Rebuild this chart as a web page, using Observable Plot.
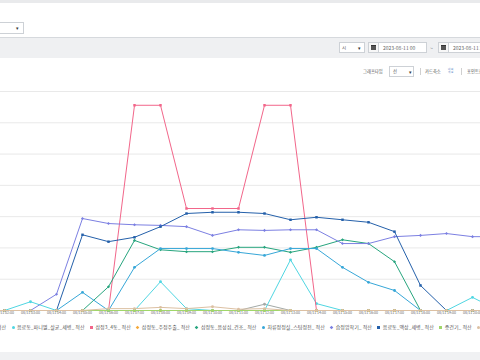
<!DOCTYPE html>
<html><head><meta charset="utf-8">
<script src="https://cdn.jsdelivr.net/npm/d3@7"></script>
<script src="https://cdn.jsdelivr.net/npm/@observablehq/plot@0.6"></script>
<style>
html,body{margin:0;padding:0;}
body{width:480px;height:360px;overflow:hidden;position:relative;background:#fff;font-family:"Noto Sans CJK KR","Noto Sans",sans-serif;color:#444;}
.abs{position:absolute;box-sizing:border-box;}
.box{position:absolute;box-sizing:border-box;background:#fff;border:1px solid #cdd1d6;}
.t{position:absolute;white-space:nowrap;line-height:1;}
#chart svg{max-width:none !important;display:block;}
#legend{position:absolute;top:324px;left:0;display:flex;gap:5.5px;font-size:5px;color:#555;white-space:nowrap;line-height:6px;}
#legend .it{display:flex;align-items:center;flex:none;}
#legend .mk{width:3px;height:3px;margin-right:2.5px;flex:none;}
</style></head><body>
<div class="abs" style="left:0;top:0;width:480px;height:3px;background:#e9eaec"></div>
<div class="box" style="left:-12px;top:22px;width:36px;height:12px;"></div>
<div class="t" style="left:16px;top:25px;font-size:5px;color:#333">▾</div>
<div class="abs" style="left:0;top:37px;width:480px;height:21px;background:#eff0f2;border-top:1px solid #d6d9dd"></div>
<div class="box" style="left:339px;top:42px;width:26px;height:11px;"></div>
<div class="t" style="left:342px;top:45px;font-size:4.5px;color:#555">시</div>
<div class="t" style="left:358px;top:45px;font-size:5px;color:#333">▾</div>
<div class="box" style="left:368px;top:42px;width:11px;height:11px;background:#f7f7f7"></div>
<div class="abs" style="left:371px;top:45px;width:5px;height:5px;background:#555;border-top:1.5px solid #333"></div>
<div class="box" style="left:378px;top:42px;width:49px;height:11px;"></div>
<div class="t" style="left:383px;top:45px;font-size:5px;color:#666">2023-08-11 00</div>
<div class="t" style="left:430px;top:44.5px;font-size:5px;color:#666">~</div>
<div class="box" style="left:438px;top:42px;width:11px;height:11px;background:#f7f7f7"></div>
<div class="abs" style="left:441px;top:45px;width:5px;height:5px;background:#555;border-top:1.5px solid #333"></div>
<div class="box" style="left:448px;top:42px;width:49px;height:11px;"></div>
<div class="t" style="left:453px;top:45px;font-size:5px;color:#666">2023-08-11 23</div>
<div class="t" style="left:363px;top:69px;font-size:4.3px;color:#555">그래프타입</div>
<div class="box" style="left:389px;top:66px;width:25px;height:11px;"></div>
<div class="t" style="left:393px;top:69px;font-size:4.3px;color:#555">선</div>
<div class="t" style="left:409px;top:69px;font-size:5px;color:#333">▾</div>
<div class="abs" style="left:420px;top:68px;width:1px;height:7px;background:#d0d0d0"></div>
<div class="t" style="left:425px;top:69px;font-size:4.3px;color:#555">카드축소</div>
<div class="t" style="left:448px;top:67.5px;font-size:2.6px;color:#5b86c6;line-height:1.2">내 외<br>개 요</div>
<div class="abs" style="left:461px;top:68px;width:1px;height:7px;background:#d0d0d0"></div>
<div class="t" style="left:467px;top:69px;font-size:4.3px;color:#555">포인트표시</div>
<div id="chart" class="abs" style="left:-100px;top:85px;width:680px;height:240px;"></div>
<div id="legend"></div>
<div class="abs" style="left:0;top:352px;width:480px;height:8px;background:#f0f1f3"></div>
<script>
const hourLabels = ["08/11 00:00","08/11 01:00","08/11 02:00","08/11 03:00","08/11 04:00","08/11 05:00","08/11 06:00","08/11 07:00","08/11 08:00","08/11 09:00","08/11 10:00","08/11 11:00","08/11 12:00","08/11 13:00","08/11 14:00","08/11 15:00","08/11 16:00","08/11 17:00","08/11 18:00","08/11 19:00","08/11 20:00","08/11 21:00","08/11 22:00","08/11 23:00"];
const yTicks = [0,50,100,150,200,250,300,350];

const seriesNames = ["음료동_충진_ 적산","음료동_파니엘_살균_세병_ 적산","삼정3_4동_ 적산","삼정동_주정주출_ 적산","삼정동_음성심_건조_ 적산","차류정정실_스팀정전_ 적산","습정압착기_ 적산","음료동_액상_세병_ 적산","증건기_ 적산","삼정동_보일러_ 적산"];
const seriesColors = ["#a3a9a6","#4fd6e2","#f2668a","#f5a93a","#27a57e","#37a7d8","#7c80e2","#2460aa","#a0d66a","#dcc0a2"];
const seriesSymbols = ["circle","circle","square","diamond2","diamond2","circle","diamond2","square","square","circle"];

const valsGray      = [0,0,0,0,0,0,0,0,0,0,0,0,10,0,0,0,0,0,0,0,0,0];
const valsCyan      = [0,0,0,14,0,0,0,0,46,3,0,0,0,81,11,0,0,0,0,0,21,0];
const valsPink      = [0,0,0,0,0,0,0,328,328,163,163,163,328,328,0,0,0,0,0,0,0,0];
const valsOrange    = [0,0,0,0,0,0,0,0,0,0,0,0,0,0,0,0,0,0,0,0,0,0];
const valsGreen     = [0,0,0,0,0,0,38,112,97,94,94,101,101,93,101,113,107,78,0,0,0,0];
const valsTealBlue  = [0,0,0,0,0,29,0,69,99,99,99,93,88,99,99,69,45,32,0,0,0,0];
const valsPurple    = [0,0,0,0,26,147,139,137,136,134,120,129,128,129,129,107,107,118,120,123,118,118];
const valsDarkBlue  = [0,0,0,0,0,121,110,117,134,155,157,157,155,145,149,145,141,126,40,0,0,0];
const valsLightGreen= [0,0,0,0,0,0,0,0,0,0,0,0,0,0,0,0,0,0,0,0,0,0];
const valsTan       = [0,0,0,0,0,0,3,3,5,3,6,2,3,0,0,0,0,0,0,0,0,0];
const seriesValues = [valsGray,valsCyan,valsPink,valsOrange,valsGreen,valsTealBlue,valsPurple,valsDarkBlue,valsLightGreen,valsTan];

const marks = [
  Plot.gridY({ticks: yTicks, stroke: "#e9e9e9", strokeOpacity: 1}),
  Plot.axisY({ticks: yTicks, tickSize: 0, fontSize: 4, fill: "#888"}),
  Plot.axisX({ticks: hourLabels.map((_, i) => i), tickFormat: i => hourLabels[i], tickSize: 0, tickPadding: 1.2, fontSize: 3.6, fill: "#666"})
];
seriesValues.forEach((vals, s) => {
  const rows = vals.map((v, h) => ({h, v}));
  marks.push(Plot.line(rows, {x: "h", y: "v", stroke: seriesColors[s], strokeWidth: 1}));
  marks.push(Plot.dot(rows, {x: "h", y: "v", fill: seriesColors[s], stroke: "none", r: 1.4, symbol: seriesSymbols[s]}));
});

const chart = Plot.plot({
  width: 680, height: 240,
  marginLeft: 52, marginRight: 30, marginTop: 6, marginBottom: 15,
  style: {fontFamily: '"Noto Sans CJK KR","Noto Sans",sans-serif', background: "transparent", maxWidth: "none"},
  x: {domain: [0, 23], axis: null},
  y: {domain: [0, 350], axis: null},
  marks
});
document.getElementById("chart").appendChild(chart);

const legend = document.getElementById("legend");
const markerEls = [];
seriesNames.forEach((name, s) => {
  const it = document.createElement("div"); it.className = "it";
  const mk = document.createElement("span"); mk.className = "mk";
  mk.style.background = seriesColors[s];
  if (seriesSymbols[s] === "circle") mk.style.borderRadius = "50%";
  if (seriesSymbols[s] === "diamond2") { mk.style.transform = "rotate(45deg) scale(0.85)"; }
  const tx = document.createElement("span"); tx.textContent = name;
  it.appendChild(mk); it.appendChild(tx); legend.appendChild(it);
  markerEls.push(mk);
});
// align the legend so the second entry's marker sits where the reference shows it
const mkBox = markerEls[1].getBoundingClientRect();
legend.style.left = (13 - (mkBox.left + mkBox.width / 2)) + "px";
</script>
</body></html>
